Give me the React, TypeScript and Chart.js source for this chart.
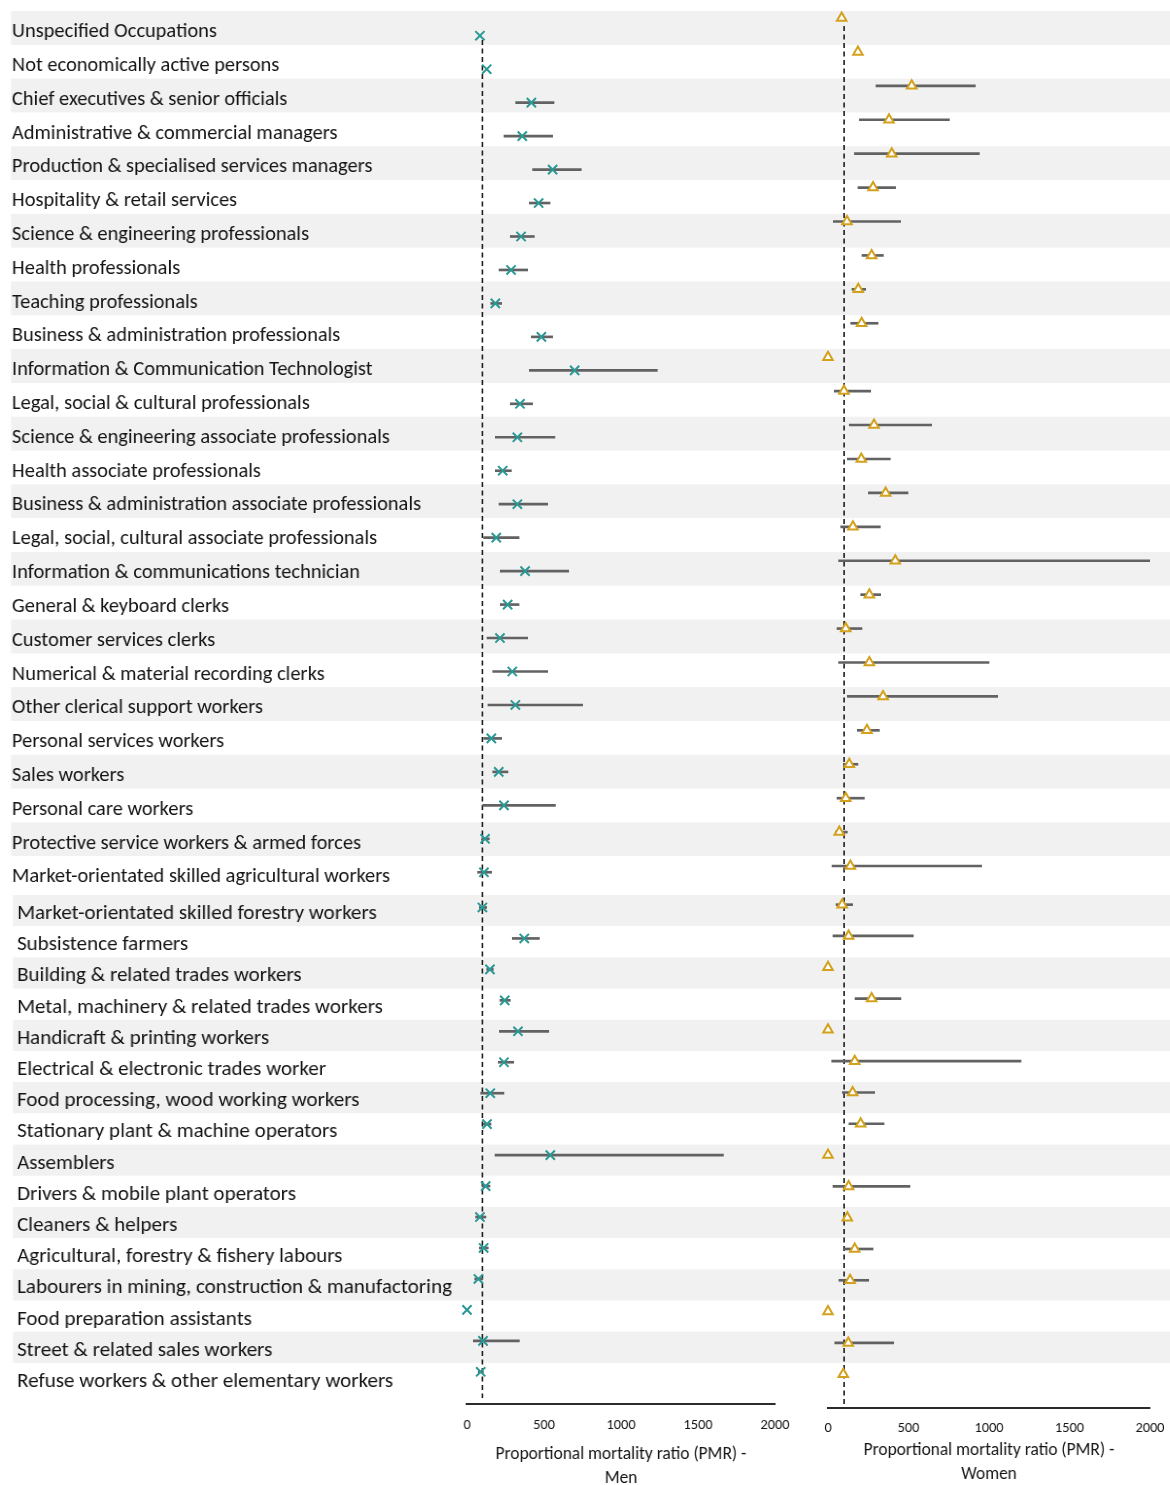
import React, { useEffect, useRef } from 'react';
import { Chart, registerables } from 'chart.js';

Chart.register(...registerables);

// Occupation groups, in display order (first 26 form the upper block, the rest the lower block)
const occupations = [
  'Unspecified Occupations',
  'Not economically active persons',
  'Chief executives & senior officials',
  'Administrative & commercial managers',
  'Production & specialised services managers',
  'Hospitality & retail services',
  'Science & engineering professionals',
  'Health professionals',
  'Teaching professionals',
  'Business & administration professionals',
  'Information & Communication Technologist',
  'Legal, social & cultural professionals',
  'Science & engineering associate professionals',
  'Health associate professionals',
  'Business & administration associate professionals',
  'Legal, social, cultural associate professionals',
  'Information & communications technician',
  'General & keyboard clerks',
  'Customer services clerks',
  'Numerical & material recording clerks',
  'Other clerical support workers',
  'Personal services workers',
  'Sales workers',
  'Personal care workers',
  'Protective service workers & armed forces',
  'Market-orientated skilled agricultural workers',
  'Market-orientated skilled forestry workers',
  'Subsistence farmers',
  'Building & related trades workers',
  'Metal, machinery & related trades workers',
  'Handicraft & printing workers',
  'Electrical & electronic trades worker',
  'Food processing, wood working workers',
  'Stationary plant & machine operators',
  'Assemblers',
  'Drivers & mobile plant operators',
  'Cleaners & helpers',
  'Agricultural, forestry & fishery labours',
  'Labourers in mining, construction & manufactoring',
  'Food preparation assistants',
  'Street & related sales workers',
  'Refuse workers & other elementary workers',
];
const UPPER_BLOCK_SIZE = 26;

// Men: PMR and 95% confidence interval
const menPMR = [
  84, 128, 418, 359, 556, 465, 351, 286, 184, 483, 699, 344, 327, 232, 327, 190, 377, 264, 214, 294, 314, 158, 206, 240, 117, 110,
  100, 372, 149, 245, 331, 240, 151, 130, 541, 121, 84, 108, 74, 0, 104, 89,
];
const menLower = [
  null, null, 316, 240, 426, 405, 281, 208, 154, 418, 405, 281, 184, 184, 208, 108, 216, 216, 130, 167, 136, 108, 167, 102, 95, 69,
  80, 294, 128, 214, 210, 203, 89, 106, 182, 97, 56, 80, 50, null, 41, 73,
];
const menUpper = [
  null, null, 565, 556, 742, 539, 437, 394, 225, 556, 1236, 426, 571, 288, 524, 338, 660, 338, 394, 524, 751, 225, 266, 574, 145, 160,
  128, 470, 171, 281, 531, 303, 240, 156, 1665, 149, 123, 138, 102, null, 340, 106,
];

// Women: PMR and 95% confidence interval
const womenPMR = [
  85, 186, 520, 379, 396, 280, 118, 271, 188, 209, 0, 99, 286, 207, 358, 155, 418, 257, 110, 257, 342, 242, 132, 110, 70, 139,
  88, 128, 0, 271, 0, 166, 153, 203, 0, 128, 120, 166, 137, 0, 126, 95,
];
const womenLower = [
  null, null, 298, 195, 164, 186, 33, 211, 149, 141, null, 39, 132, 120, 251, 79, 66, 203, 56, 66, 120, 182, 95, 56, 46, 25,
  50, 31, null, 168, null, 23, 89, 130, null, 31, 100, 97, 68, null, 42, 75,
];
const womenUpper = [
  null, null, 915, 754, 940, 420, 451, 344, 234, 311, null, 265, 644, 387, 497, 325, 2000, 327, 211, 1000, 1054, 319, 186, 226, 120, 954,
  153, 530, null, 453, null, 1199, 290, 348, null, 509, 140, 280, 253, null, 408, 116,
];

const pmrTicks = [0, 500, 1000, 1500, 2000];
const REFERENCE_PMR = 100;
const menAxisTitle = ['Proportional mortality ratio (PMR) -', 'Men'];
const womenAxisTitle = ['Proportional mortality ratio (PMR) -', 'Women'];

const STRIPE = '#f1f1f1';
const TEXT = '#141414';
const MEN_COLOR = '#2a9995';
const WOMEN_COLOR = '#d3a11c';
const CI_COLOR = '#626262';

// ---- fonts (narrow text is obtained by a horizontal canvas squeeze) ------
type Fonts = {
  family: string;
  upperLabel: number; lowerLabel: number;
  upperSqueeze: number; lowerSqueeze: number; axisSqueeze: number;
  tick: number; title: number;
};
let fontCache: Fonts | null = null;

function isInstalled(ctx: CanvasRenderingContext2D, name: string) {
  const sample = 'abcdefghijklmnopqrstuvwxyz ABCDEFGHIJKLM 0123456789 &,-';
  ctx.font = `40px "${name}", monospace`;
  const a = ctx.measureText(sample).width;
  ctx.font = `40px "${name}", serif`;
  const b = ctx.measureText(sample).width;
  return Math.abs(a - b) < 0.01;
}

function getFonts(): Fonts {
  if (fontCache) return fontCache;
  const ctx = document.createElement('canvas').getContext('2d')!;
  const family = ['Carlito', 'Lato', 'Liberation Sans', 'DejaVu Sans'].find((c) => isInstalled(ctx, c)) || 'sans-serif';
  const width = (text: string, size: number) => {
    ctx.font = `${size}px "${family}"`;
    return ctx.measureText(text).width;
  };
  const upperLabel = 21;
  const lowerLabel = 20;
  const upperSqueeze = 409 / width('Business & administration associate professionals', upperLabel);
  const lowerSqueeze = 435 / width('Labourers in mining, construction & manufactoring', lowerLabel);
  const axisSqueeze = upperSqueeze;
  fontCache = {
    family,
    upperLabel,
    lowerLabel,
    upperSqueeze,
    lowerSqueeze,
    axisSqueeze,
    tick: Math.round((29 / axisSqueeze / width('2000', 1)) * 10) / 10,
    title: Math.round((251 / axisSqueeze / width('Proportional mortality ratio (PMR) -', 1)) * 10) / 10,
  };
  return fontCache;
}

// ---- plugins -----------------------------------------------------------
const stripePlugin = {
  id: 'rowStripes',
  beforeDraw(chart: any, _args: any, opts: any) {
    const y = chart.scales.y;
    const n = chart.data.labels.length;
    const half = (y.bottom - y.top) / n / 2;
    const { ctx } = chart;
    ctx.save();
    ctx.fillStyle = STRIPE;
    for (let i = 0; i < n; i++) {
      if ((opts.firstIndex + i) % 2 !== 0) continue;
      const c = y.getPixelForTick(i);
      ctx.fillRect(opts.left, c - half, chart.width - opts.left, half * 2);
    }
    ctx.restore();
  },
};

const refLinePlugin = {
  id: 'refLine',
  beforeDatasetsDraw(chart: any, _args: any, opts: any) {
    const { ctx, chartArea } = chart;
    const x = chart.scales.x.getPixelForValue(opts.value);
    ctx.save();
    ctx.strokeStyle = '#1e1e1e';
    ctx.lineWidth = 1.6;
    ctx.setLineDash([5, 3.5]);
    ctx.beginPath();
    ctx.moveTo(x, chartArea.top + (opts.insetTop || 0));
    ctx.lineTo(x, chartArea.bottom - (opts.insetBottom || 0));
    ctx.stroke();
    ctx.restore();
  },
};

const quiet = { legend: { display: false }, tooltip: { enabled: false } };

// ---- chart builders ----------------------------------------------------
type LabelBand = { from: number; to: number; textLeft: number; stripeLeft: number; labelOffset: number; upper: boolean };

function buildLabelChart(canvas: HTMLCanvasElement, band: LabelBand) {
  const fonts = getFonts();
  const squeeze = band.upper ? fonts.upperSqueeze : fonts.lowerSqueeze;
  const labels = occupations.slice(band.from, band.to);
  return new Chart(canvas, {
    type: 'bar',
    data: { labels, datasets: [{ data: labels.map(() => null) }] },
    options: {
      indexAxis: 'y',
      animation: false,
      responsive: false,
      events: [],
      layout: { autoPadding: false, padding: { left: band.textLeft / squeeze, right: 0, top: 0, bottom: 0 } },
      scales: {
        x: { display: false, min: 0, max: 2000 },
        y: {
          type: 'category',
          position: 'left',
          offset: true,
          grid: { display: false, drawTicks: false },
          border: { display: false },
          afterFit: (s: any) => {
            s.paddingTop = 0;
            s.paddingBottom = 0;
          },
          ticks: {
            autoSkip: false,
            crossAlign: 'far',
            padding: 0,
            labelOffset: band.labelOffset,
            color: TEXT,
            font: { family: fonts.family, size: band.upper ? fonts.upperLabel : fonts.lowerLabel },
          },
        },
      },
      plugins: { ...quiet, rowStripes: { firstIndex: band.from, left: band.stripeLeft / squeeze } } as any,
    },
    plugins: [stripePlugin],
  });
}

type Panel = {
  from: number; to: number; yMax: number;
  pmr: number[]; lower: (number | null)[]; upper: (number | null)[];
  style: 'men' | 'women';
  refInsetTop: number; refInsetBottom: number;
};

function buildPanelChart(canvas: HTMLCanvasElement, p: Panel) {
  const idx = Array.from({ length: p.to - p.from }, (_, k) => p.from + k);
  const points = idx.map((g, k) => ({ x: p.pmr[g], y: k }));
  const intervals = idx.flatMap((g, k) =>
    p.lower[g] == null ? [] : [{ x: [p.lower[g] as number, p.upper[g] as number], y: k }]
  );
  const men = p.style === 'men';
  return new Chart(canvas, {
    type: 'bar',
    data: {
      datasets: [
        {
          type: 'line',
          data: points as any,
          showLine: false,
          pointStyle: men ? 'crossRot' : 'triangle',
          pointRadius: men ? 6.5 : 5.5,
          pointBorderWidth: 2,
          pointBorderColor: men ? MEN_COLOR : WOMEN_COLOR,
          pointBackgroundColor: men ? MEN_COLOR : '#ffffff',
          clip: false as any,
        },
        {
          type: 'bar',
          data: intervals as any,
          backgroundColor: CI_COLOR,
          barThickness: 2,
          borderWidth: 0,
        },
      ],
    },
    options: {
      indexAxis: 'y',
      animation: false,
      responsive: false,
      events: [],
      layout: { autoPadding: false, padding: { left: 20, right: 20, top: 0, bottom: 0 } },
      scales: {
        x: { type: 'linear', display: false, offset: false, min: pmrTicks[0], max: pmrTicks[pmrTicks.length - 1] },
        y: { type: 'linear', display: false, offset: false, reverse: true, min: -0.5, max: p.yMax },
      },
      plugins: { ...quiet, refLine: { value: REFERENCE_PMR, insetTop: p.refInsetTop, insetBottom: p.refInsetBottom } } as any,
    },
    plugins: [refLinePlugin],
  });
}

type AxisSpec = {
  screenLeft: number; screenRight: number; canvasLeft: number;
  axisY: number; tickCenterY: number; lastLineY: number; title: string[];
};

function axisGeometry(a: AxisSpec) {
  const s = getFonts().axisSqueeze;
  const padLeft = (a.screenLeft - a.canvasLeft) / s;
  const right = (a.screenRight - a.canvasLeft) / s;
  const width = Math.ceil(right + 40);
  return { s, padLeft, padRight: width - right, width };
}

function buildAxisChart(canvas: HTMLCanvasElement, a: AxisSpec, pageBottom: number) {
  const fonts = getFonts();
  const g = axisGeometry(a);
  const axisHeight = pageBottom - a.axisY;
  const tickPadding = a.tickCenterY - a.axisY - fonts.tick * 0.6;
  const titlePadBottom = pageBottom - a.lastLineY - 12;
  return new Chart(canvas, {
    type: 'bar',
    data: { datasets: [] },
    options: {
      animation: false,
      responsive: false,
      events: [],
      layout: { autoPadding: false, padding: { left: g.padLeft, right: g.padRight, top: 0, bottom: 0 } },
      scales: {
        x: {
          type: 'linear',
          position: 'bottom',
          offset: false,
          min: pmrTicks[0],
          max: pmrTicks[pmrTicks.length - 1],
          afterBuildTicks: (s: any) => {
            s.ticks = pmrTicks.map((v) => ({ value: v }));
          },
          afterFit: (s: any) => {
            s.height = axisHeight;
          },
          grid: { display: false, drawTicks: false },
          border: { display: true, color: '#2b2b2b', width: 2 },
          ticks: {
            padding: tickPadding,
            color: TEXT,
            maxRotation: 0,
            autoSkip: false,
            font: { family: fonts.family, size: fonts.tick },
            callback: (v: any) => String(v),
          },
          title: {
            display: true,
            text: a.title,
            color: TEXT,
            font: { family: fonts.family, size: fonts.title, lineHeight: '24px' } as any,
            padding: { top: 0, bottom: titlePadBottom },
          },
        },
        y: { type: 'linear', display: false },
      },
      plugins: quiet as any,
    },
  });
}

// ---- components ---------------------------------------------------------
type Box = { left: number; top: number; width: number; height: number; squeeze?: number };

function ChartCanvas({ box, build }: { box: Box; build: (c: HTMLCanvasElement) => Chart }) {
  const ref = useRef<HTMLCanvasElement | null>(null);
  useEffect(() => {
    const chart = build(ref.current!);
    return () => chart.destroy();
  }, []);
  const style: React.CSSProperties = {
    position: 'absolute',
    left: box.left,
    top: box.top,
    width: box.width,
    height: box.height,
  };
  if (box.squeeze) {
    style.transform = `scaleX(${box.squeeze})`;
    style.transformOrigin = '0 0';
  }
  return <canvas ref={ref} width={box.width} height={box.height} style={style} />;
}

const PAGE_W = 1170;
const PAGE_H = 1485;

const labelBands: { top: number; height: number; band: LabelBand }[] = [
  { top: 11, height: 879, band: { from: 0, to: UPPER_BLOCK_SIZE, textLeft: 12, stripeLeft: 11, labelOffset: 4, upper: true } },
  { top: 895, height: 499, band: { from: UPPER_BLOCK_SIZE, to: occupations.length, textLeft: 17, stripeLeft: 13, labelOffset: 3.5, upper: false } },
];

const panels: { box: Box; panel: Panel }[] = [
  {
    box: { left: 447, top: 19, width: 348, height: 870 },
    panel: { from: 0, to: UPPER_BLOCK_SIZE, yMax: UPPER_BLOCK_SIZE - 0.5, pmr: menPMR, lower: menLower, upper: menUpper, style: 'men', refInsetTop: 21, refInsetBottom: 0 },
  },
  {
    box: { left: 447, top: 892, width: 348, height: 512 },
    panel: { from: UPPER_BLOCK_SIZE, to: occupations.length, yMax: 16.04, pmr: menPMR, lower: menLower, upper: menUpper, style: 'men', refInsetTop: 0, refInsetBottom: 6 },
  },
  {
    box: { left: 808, top: 1, width: 362, height: 882 },
    panel: { from: 0, to: UPPER_BLOCK_SIZE, yMax: UPPER_BLOCK_SIZE - 0.5, pmr: womenPMR, lower: womenLower, upper: womenUpper, style: 'women', refInsetTop: 25, refInsetBottom: 0 },
  },
  {
    box: { left: 808, top: 889, width: 362, height: 519 },
    panel: { from: UPPER_BLOCK_SIZE, to: occupations.length, yMax: 16.08, pmr: womenPMR, lower: womenLower, upper: womenUpper, style: 'women', refInsetTop: 0, refInsetBottom: 0 },
  },
];

const axes: AxisSpec[] = [
  { screenLeft: 467, screenRight: 775, canvasLeft: 420, axisY: 1404, tickCenterY: 1425, lastLineY: 1479, title: menAxisTitle },
  { screenLeft: 828, screenRight: 1150, canvasLeft: 790, axisY: 1408, tickCenterY: 1428, lastLineY: 1475, title: womenAxisTitle },
];

export default function App() {
  const fonts = getFonts();
  return (
    <div style={{ position: 'absolute', left: 0, top: 0, width: PAGE_W, height: PAGE_H, background: '#ffffff', overflow: 'hidden' }}>
      {labelBands.map((b, i) => {
        const squeeze = b.band.upper ? fonts.upperSqueeze : fonts.lowerSqueeze;
        const box = { left: 0, top: b.top, width: Math.ceil(PAGE_W / squeeze), height: b.height, squeeze };
        return <ChartCanvas key={`l${i}`} box={box} build={(c) => buildLabelChart(c, b.band)} />;
      })}
      {panels.map((p, i) => (
        <ChartCanvas key={`p${i}`} box={p.box} build={(c) => buildPanelChart(c, p.panel)} />
      ))}
      {axes.map((a, i) => {
        const g = axisGeometry(a);
        const top = a.axisY - 10;
        const box = { left: a.canvasLeft, top, width: g.width, height: PAGE_H - top, squeeze: g.s };
        return <ChartCanvas key={`a${i}`} box={box} build={(c) => buildAxisChart(c, a, PAGE_H)} />;
      })}
    </div>
  );
}
